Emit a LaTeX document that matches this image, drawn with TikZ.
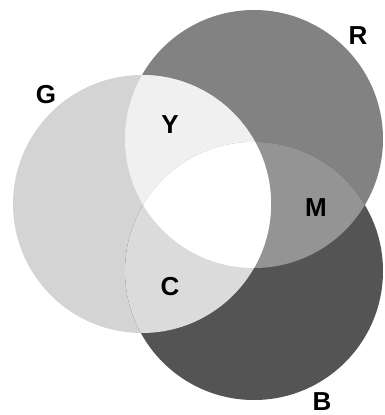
\documentclass[tikz,border=0pt]{standalone}
\usepackage{fontspec}
\setmainfont{Liberation Sans}
\usepackage{tikz}

\definecolor{colR}{gray}{0.51}
\definecolor{colG}{gray}{0.83}
\definecolor{colB}{gray}{0.33}
\definecolor{colY}{gray}{0.94}
\definecolor{colM}{gray}{0.58}
\definecolor{colC}{gray}{0.86}
\newcommand\circrad{129pt}

\begin{document}
\begin{tikzpicture}[x=1pt,y=-1pt,every node/.style={font=\bfseries\fontsize{26}{26}\selectfont,inner sep=0pt}]
  \useasboundingbox (0,0) rectangle (384,415);
  \coordinate (cR) at (254,139);
  \coordinate (cG) at (142,204);
  \coordinate (cB) at (254,271);
  % the three discs
  \fill[colR] (cR) circle[radius=\circrad];
  \fill[colG] (cG) circle[radius=\circrad];
  \fill[colB] (cB) circle[radius=\circrad];
  % pairwise overlaps
  \begin{scope}
    \clip (cR) circle[radius=\circrad];
    \fill[colY] (cG) circle[radius=\circrad];
    \fill[colM] (cB) circle[radius=\circrad];
  \end{scope}
  \begin{scope}
    \clip (cG) circle[radius=\circrad];
    \fill[colC] (cB) circle[radius=\circrad];
    \clip (cR) circle[radius=\circrad];
    \fill[white] (cB) circle[radius=\circrad];
  \end{scope}
  % labels
  \node (R) at (358,36) {R};
  \node (G) at (46,95) {G};
  \node (B) at (322,402) {B};
  \node (Y) at (170,125) {Y};
  \node (M) at (316,208) {M};
  \node (C) at (170,287) {C};
\end{tikzpicture}
\end{document}
